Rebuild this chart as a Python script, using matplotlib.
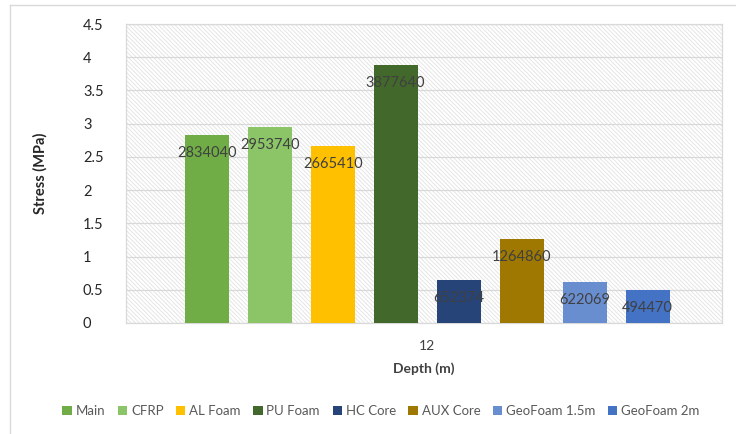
import matplotlib
matplotlib.use("Agg")
import matplotlib.pyplot as plt
from matplotlib.patches import Rectangle
from matplotlib.lines import Line2D
import numpy as np

plt.rcParams['font.family'] = ['Lato', 'DejaVu Sans']
plt.rcParams['hatch.linewidth'] = 0.6
plt.rcParams['hatch.color'] = '#E2E2E2'

series = ["Main", "CFRP", "AL Foam", "PU Foam", "HC Core", "AUX Core", "GeoFoam 1.5m", "GeoFoam 2m"]
values = [2.834040, 2.953740, 2.665410, 3.877640, 0.652374, 1.264860, 0.622069, 0.494470]
labels = ["2834040", "2953740", "2665410", "3877640", "652374", "1264860", "622069", "494470"]
colors = ["#70AD47", "#8CC468", "#FFC000", "#43682B", "#264478", "#9E7800", "#698ED0", "#4472C4"]
category = ["12"]
yticks = [0, 0.5, 1, 1.5, 2, 2.5, 3, 3.5, 4, 4.5]

W, H = 736, 434
fig = plt.figure(figsize=(W / 100, H / 100), dpi=100)
ax = fig.add_axes([126 / W, 1 - 323 / H, (722 - 126) / W, (323 - 24) / H])

# chart frame
fig.add_artist(Line2D([10 / W, 10 / W], [0, 1 - 5 / H], color='#D9D9D9', lw=1, transform=fig.transFigure))
fig.add_artist(Line2D([10 / W, 1], [1 - 5 / H, 1 - 5 / H], color='#D9D9D9', lw=1, transform=fig.transFigure))

# hatched plot area
ax.add_patch(Rectangle((0, 0), 1, 1, transform=ax.transAxes, facecolor='white',
                       edgecolor='#E2E2E2', hatch='\\' * 8, lw=0, zorder=0))

pitch = 0.1
width = 0.07
n = len(series)
for i, (s, v, lab, c) in enumerate(zip(series, values, labels, colors)):
    x = (i - (n - 1) / 2) * pitch
    ax.bar(x, v, width=width, color=c, label=s, zorder=3)
    ax.annotate(lab, (x, v), xytext=(0, -13), textcoords='offset points',
                ha='center', va='center', fontsize=10.5, color='#404040', zorder=4)

ax.set_xlim(-0.478, 0.468)
ax.set_ylim(0, 4.5)
ax.set_xticks([0])
ax.set_xticklabels(category)
ax.set_yticks(yticks)
ax.set_yticklabels([f"{t:g}" for t in yticks], ha='left')
ax.tick_params(axis='y', length=0, pad=31, labelsize=10.5, labelcolor='#262626')
ax.tick_params(axis='x', length=0, pad=12, labelsize=10, labelcolor='#404040')
ax.grid(axis='y', color='#D9D9D9', lw=0.9, zorder=1)
ax.set_axisbelow(True)
for sp in ax.spines.values():
    sp.set_color('#D9D9D9')
    sp.set_linewidth(0.9)

ax.set_xlabel("Depth (m)", fontsize=10, fontweight='bold', color='#404040', labelpad=8)
ax.set_ylabel("Stress (MPa)", fontsize=10.5, fontweight='bold', color='#262626', labelpad=22)
ax.yaxis.set_label_coords(-(126 - 48) / (722 - 126), 0.5)

fig.legend(loc='center', bbox_to_anchor=(381 / W, 1 - 411 / H), ncol=8, frameon=False,
           fontsize=9.5, labelcolor='#595959', handlelength=0.7, handleheight=0.7,
           handletextpad=0.3, columnspacing=0.95)

fig.savefig("out.png", dpi=100)
